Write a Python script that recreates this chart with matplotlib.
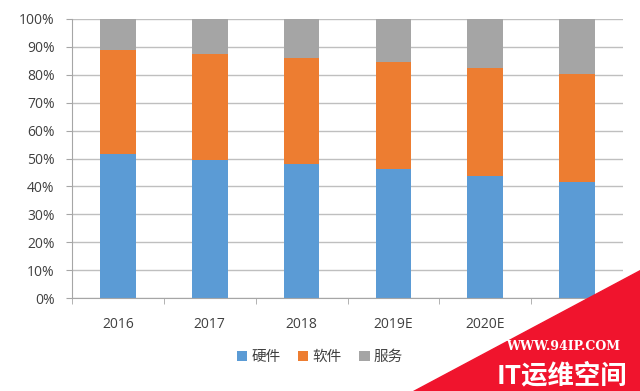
import matplotlib.pyplot as plt
from matplotlib.patches import Polygon
import numpy as np

plt.rcParams['font.family'] = ['Open Sans', 'Noto Sans CJK SC', 'DejaVu Sans']

years = ['2016', '2017', '2018', '2019E', '2020E', '2021E']
hardware = [51.5, 49.5, 48.0, 46.2, 43.8, 41.5]
software = [37.4, 38.0, 38.1, 38.5, 38.5, 38.8]
services = [100 - h - s for h, s in zip(hardware, software)]

labels = ['硬件', '软件', '服务']
colors = ['#5B9BD5', '#ED7D31', '#A5A5A5']

fig = plt.figure(figsize=(6.4, 3.91), dpi=100)
ax = fig.add_axes([72 / 640, 1 - 298 / 391, 551 / 640, 279 / 391])

x = np.arange(len(years))
w = 0.39
ax.bar(x, hardware, w, color=colors[0], label=labels[0], zorder=2)
ax.bar(x, software, w, bottom=hardware, color=colors[1], label=labels[1], zorder=2)
bottom2 = [h + s for h, s in zip(hardware, software)]
ax.bar(x, services, w, bottom=bottom2, color=colors[2], label=labels[2], zorder=2)

ax.set_xlim(-0.5, len(years) - 0.5)
ax.set_ylim(0, 100)
ax.set_yticks(range(0, 101, 10))
ax.set_yticklabels([f'{v}%' for v in range(0, 101, 10)], fontsize=10, color='#404040')
ax.set_xticks(x)
ax.set_xticklabels(years, fontsize=10, color='#404040')
ax.set_xticks(np.arange(-0.5, len(years), 1), minor=True)
ax.tick_params(axis='x', which='major', length=0, pad=14)
ax.tick_params(axis='x', which='minor', length=4, color='#A6A6A6', direction='out')
ax.tick_params(axis='y', length=4.5, color='#A6A6A6', pad=8)

ax.grid(axis='y', color='#BFBFBF', linewidth=1, zorder=1)
for s in ['top', 'right']:
    ax.spines[s].set_visible(False)
ax.spines['left'].set_color('#A6A6A6')
ax.spines['bottom'].set_color('#A6A6A6')

fig.legend(loc='center', bbox_to_anchor=(0.5, 1 - 357 / 391), ncol=3, frameon=False,
           handlelength=0.7, handleheight=0.7, handletextpad=0.3, columnspacing=1.2,
           prop={'family': ['Noto Sans CJK SC'], 'size': 10.5}, labelcolor='#404040')

# watermark in the lower right corner
tri = Polygon([(413 / 640, 0), (1, 0), (1, 1 - 270 / 391)], closed=True,
              transform=fig.transFigure, color='#F0142D', zorder=5)
fig.patches.append(tri)
fig.text(563 / 640, 1 - 346 / 391, 'WWW.94IP.COM', color='white', fontsize=9,
         fontweight='bold', family=['DejaVu Serif'], ha='center', va='center', zorder=6)
fig.text(562 / 640, 1 - 376 / 391, 'IT运维空间', color='white', fontsize=19,
         fontweight='bold', family=['Noto Sans CJK SC'], ha='center', va='center', zorder=6)

fig.savefig('out.png', dpi=100)
